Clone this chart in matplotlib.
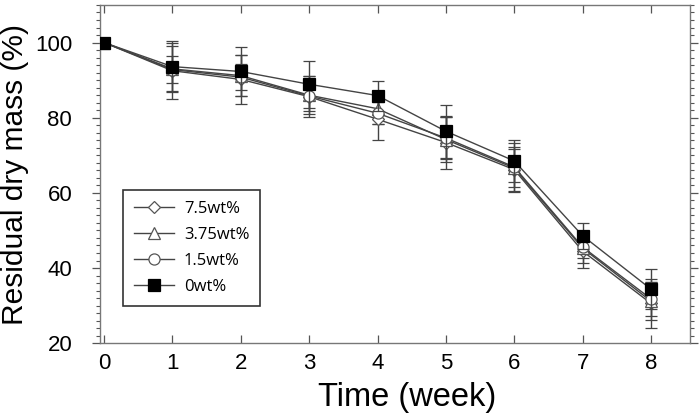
import matplotlib
matplotlib.use("Agg")
import matplotlib.pyplot as plt
from matplotlib.ticker import MultipleLocator
from matplotlib.lines import Line2D

weeks = [0, 1, 2, 3, 4, 5, 6, 7, 8]

labels = ["7.5wt%", "3.75wt%", "1.5wt%", "0wt%"]
markers = ["D", "^", "o", "s"]

mass_75 = [100, 92.5, 90.2, 85.6, 79.6, 73.4, 66.2, 44.5, 30.6]
mass_375 = [100, 93.0, 91.2, 86.0, 82.4, 74.2, 66.6, 45.3, 31.2]
mass_15 = [100, 92.8, 90.8, 85.8, 81.2, 74.6, 66.9, 45.6, 31.8]
mass_0 = [100, 93.6, 92.3, 88.9, 85.9, 76.4, 68.5, 48.6, 34.4]

err_75 = [0, 7.5, 6.5, 5.5, 5.5, 7.0, 6.0, 4.5, 6.5]
err_375 = [0, 6.0, 5.5, 5.0, 4.0, 6.0, 5.0, 4.0, 5.0]
err_15 = [0, 3.5, 3.5, 4.0, 3.0, 5.5, 6.5, 3.0, 4.5]
err_0 = [0, 6.8, 6.4, 6.3, 4.0, 7.0, 5.6, 3.4, 5.3]

series = [mass_75, mass_375, mass_15, mass_0]
errors = [err_75, err_375, err_15, err_0]

fig = plt.figure(figsize=(6.99, 4.15), dpi=100)
ax = fig.add_axes([0.143, 0.173, 0.844, 0.815])

line_col = "#444444"
handles = []
for lab, mk, ys, es in zip(labels, markers, series, errors):
    filled = mk == "s"
    style = dict(color=line_col, lw=1.0, marker=mk,
                 markersize=8 if mk != "D" else 6.5,
                 markerfacecolor="black" if filled else "white",
                 markeredgecolor="black" if filled else "#555555",
                 markeredgewidth=0.9)
    ax.errorbar(weeks, ys, yerr=es, ecolor="#444444", elinewidth=1.0,
                capsize=4, capthick=1.0, zorder=3 if filled else 2, **style)
    handles.append(Line2D([], [], label=lab, **style))

ax.set_xlim(-0.06, 8.57)
ax.set_ylim(20, 110)
ax.set_xticks(weeks)
ax.set_yticks([20, 40, 60, 80, 100])
ax.yaxis.set_minor_locator(MultipleLocator(2))

tick_font = "Liberation Sans"
ax.tick_params(axis="x", direction="in", top=True, length=6, width=0.9,
               color="#555555", labelsize=16, pad=7)
ax.tick_params(axis="y", which="major", direction="out", right=True, length=6,
               width=0.9, color="#555555", labelsize=16, pad=14)
ax.tick_params(axis="y", which="minor", direction="out", right=True, length=3,
               width=0.8, color="#555555")
for t in ax.get_xticklabels() + ax.get_yticklabels():
    t.set_fontfamily(tick_font)

for s in ax.spines.values():
    s.set_color("#777777")
    s.set_linewidth(1.0)

ax.set_xlabel("Time (week)", fontsize=23.5, fontfamily=tick_font)
ax.xaxis.set_label_coords(0.52, -0.115, transform=ax.transAxes)
ax.xaxis.label.set_verticalalignment("top")
ax.set_ylabel("Residual dry mass (%)", fontsize=21.5, fontfamily=tick_font, labelpad=4)

leg = ax.legend(handles=handles, loc="upper left", bbox_to_anchor=(0.025, 0.478),
                frameon=True, fancybox=False, edgecolor="black",
                prop={"family": "Open Sans", "size": 12},
                handlelength=2.4, labelspacing=0.6, borderpad=0.65,
                handletextpad=0.6)
leg.get_frame().set_linewidth(1.2)

fig.savefig("out.png", dpi=100)
